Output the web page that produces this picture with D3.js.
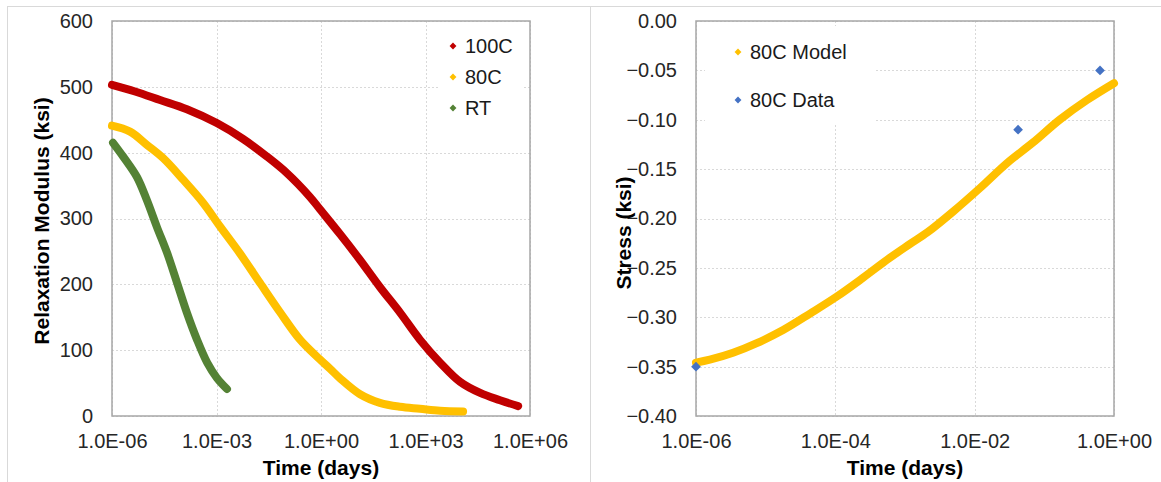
<!DOCTYPE html>
<html>
<head>
<meta charset="utf-8">
<script src="https://cdn.jsdelivr.net/npm/d3@7"></script>
<style>
  html, body { margin: 0; padding: 0; background: #fff; }
  svg { display: block; font-family: "Liberation Sans", Arial, sans-serif; }
</style>
</head>
<body>
<svg id="chart" width="1161" height="482"></svg>
<script>
// ---- Relaxation modulus (ksi) vs time (days) ----
const modSeriesNames = ["100C", "80C", "RT"];
const modSeriesColors = ["#C00000", "#FFC000", "#548235"];

const mod100C_t = [1e-6, 4.57e-6, 2.4e-5, 1.41e-4, 1.02e-3, 5.75e-3, 0.0282, 0.105, 0.479, 0.933, 3.55, 13.2, 49, 186, 692, 2630, 9770, 37150, 138000, 457000];
const mod100C_v = [503, 493, 480, 466, 445, 421, 394, 369, 333, 314, 276, 237, 196, 157, 116, 81, 52, 35, 24, 15];

const mod80C_t = [1e-6, 3.3e-6, 1e-5, 2.9e-5, 1.1e-4, 4.1e-4, 1.26e-3, 4.7e-3, 0.0178, 0.066, 0.25, 0.93, 1.8, 3.55, 13.2, 49, 186, 692, 2630, 12000];
const mod80C_v = [441, 432, 412, 392, 359, 324, 288, 247, 202, 158, 116, 86, 72, 57, 33, 20, 14, 11, 8, 7];

const modRT_t = [1.07e-6, 2.1e-6, 5.2e-6, 1e-5, 1.95e-5, 3.8e-5, 7.4e-5, 1.41e-4, 2.75e-4, 5.4e-4, 1.02e-3, 2.0e-3];
const modRT_v = [415, 394, 363, 328, 287, 248, 202, 157, 116, 81, 58, 41];

const modXTicks = [1e-6, 1e-3, 1e0, 1e3, 1e6];
const modYTicks = [0, 100, 200, 300, 400, 500, 600];

// ---- Stress (ksi) vs time (days) at 80C ----
const stressSeriesNames = ["80C Model", "80C Data"];
const stressSeriesColors = ["#FFC000", "#4472C4"];

const model_t = [1e-6, 1.58e-6, 3.4e-6, 7.6e-6, 1.78e-5, 4.4e-5, 1.05e-4, 2.5e-4, 6.0e-4, 1.17e-3, 2.1e-3, 4.9e-3, 0.012, 0.029, 0.069, 0.166, 0.41, 1.0];
const model_v = [-0.346, -0.343, -0.336, -0.326, -0.313, -0.296, -0.279, -0.260, -0.240, -0.226, -0.214, -0.193, -0.169, -0.144, -0.123, -0.100, -0.080, -0.063];

const data_t = [1e-6, 0.042, 0.63];
const data_v = [-0.350, -0.110, -0.050];

const stressXTicks = [1e-6, 1e-4, 1e-2, 1e0];
const stressYTicks = [-0.40, -0.35, -0.30, -0.25, -0.20, -0.15, -0.10, -0.05, 0.00];

const svg = d3.select("#chart");

// panel frames
svg.append("rect").attr("x", 7.5).attr("y", 6.5).attr("width", 583).attr("height", 500)
  .attr("fill", "none").attr("stroke", "#d9d9d9").attr("stroke-width", 1);
svg.append("rect").attr("x", 590.5).attr("y", 6.5).attr("width", 600).attr("height", 500)
  .attr("fill", "none").attr("stroke", "#d9d9d9").attr("stroke-width", 1);

const expFmt = d => {
  const e = Math.round(Math.log10(d));
  return "1.0E" + (e < 0 ? "-" : "+") + String(Math.abs(e)).padStart(2, "0");
};

function drawPanel(cfg) {
  const g = svg.append("g");
  const x = d3.scaleLog().domain(cfg.xDomain).range([cfg.left, cfg.right]);
  const y = d3.scaleLinear().domain(cfg.yDomain).range([cfg.bottom, cfg.top]);

  // gridlines
  g.append("g").selectAll("line.h").data(cfg.yTicks).join("line")
    .attr("x1", cfg.left).attr("x2", cfg.right)
    .attr("y1", d => Math.round(y(d)) + 0.5).attr("y2", d => Math.round(y(d)) + 0.5)
    .attr("stroke", "#d9d9d9").attr("stroke-width", 1).attr("stroke-dasharray", "2,2");
  g.append("g").selectAll("line.v").data(cfg.xTicks).join("line")
    .attr("y1", cfg.top).attr("y2", cfg.bottom)
    .attr("x1", d => Math.round(x(d)) + 0.5).attr("x2", d => Math.round(x(d)) + 0.5)
    .attr("stroke", "#d9d9d9").attr("stroke-width", 1).attr("stroke-dasharray", "2,2");

  // legend background hides the grid behind it
  g.append("rect").attr("x", cfg.legendBox[0]).attr("y", cfg.legendBox[1])
    .attr("width", cfg.legendBox[2]).attr("height", cfg.legendBox[3]).attr("fill", "#fff");

  // plot-area border
  g.append("rect").attr("x", cfg.left).attr("y", cfg.top)
    .attr("width", cfg.right - cfg.left).attr("height", cfg.bottom - cfg.top)
    .attr("fill", "none").attr("stroke", "#a6a6a6").attr("stroke-width", 1.5);

  // axes
  const xAxis = d3.axisBottom(x).tickValues(cfg.xTicks).tickFormat(expFmt).tickSize(0).tickPadding(18);
  const yAxis = d3.axisLeft(y).tickValues(cfg.yTicks).tickFormat(cfg.yFmt).tickSize(0).tickPadding(19);
  const gx = g.append("g").attr("transform", `translate(0,${cfg.bottom})`).call(xAxis);
  const gy = g.append("g").attr("transform", `translate(${cfg.left},0)`).call(yAxis);
  [gx, gy].forEach(a => {
    a.select(".domain").remove();
    a.selectAll("text").attr("font-size", 20).attr("fill", "#262626")
      .attr("font-family", "'Liberation Sans', Arial, sans-serif");
  });

  // series
  const line = d3.line().x(d => x(d[0])).y(d => y(d[1])).curve(d3.curveCatmullRom.alpha(0.5));
  cfg.lines.forEach(s => {
    const pts = s.t.map((t, i) => [t, s.v[i]]);
    g.append("path").attr("d", line(pts)).attr("fill", "none")
      .attr("stroke", s.color).attr("stroke-width", 8)
      .attr("stroke-linejoin", "round").attr("stroke-linecap", "round");
  });
  cfg.points.forEach(s => {
    const pts = s.t.map((t, i) => [t, s.v[i]]);
    g.append("g").selectAll("path").data(pts).join("path")
      .attr("d", d3.symbol(d3.symbolDiamond2, 60)())
      .attr("transform", d => `translate(${x(d[0])},${y(d[1])})`)
      .attr("fill", s.color);
  });

  // legend
  const lg = g.append("g");
  cfg.legend.forEach((item, i) => {
    const yy = cfg.legendY0 + i * cfg.legendStep;
    lg.append("path").attr("d", d3.symbol(d3.symbolDiamond2, 30)())
      .attr("transform", `translate(${cfg.legendX},${yy})`).attr("fill", item.color);
    lg.append("text").attr("x", cfg.legendX + 12).attr("y", yy)
      .attr("dominant-baseline", "central").attr("font-size", 20).attr("fill", "#1a1a1a")
      .text(item.name);
  });

  // axis titles
  g.append("text").attr("x", (cfg.left + cfg.right) / 2).attr("y", 467)
    .attr("text-anchor", "middle").attr("dominant-baseline", "central")
    .attr("font-size", 21).attr("font-weight", "bold").attr("fill", "#000")
    .text(cfg.xTitle);
  g.append("text").attr("transform", `translate(${cfg.yTitleX},${cfg.yTitleY}) rotate(-90)`)
    .attr("text-anchor", "middle").attr("dominant-baseline", "central")
    .attr("font-size", 21).attr("font-weight", "bold").attr("fill", "#000")
    .text(cfg.yTitle);
}

drawPanel({
  left: 112, right: 530, top: 21, bottom: 416,
  xDomain: [1e-6, 1e6], yDomain: [0, 600],
  xTicks: modXTicks, yTicks: modYTicks, yFmt: d3.format("d"),
  lines: [
    { t: mod100C_t, v: mod100C_v, color: modSeriesColors[0] },
    { t: mod80C_t, v: mod80C_v, color: modSeriesColors[1] },
    { t: modRT_t, v: modRT_v, color: modSeriesColors[2] }
  ],
  points: [],
  legend: modSeriesNames.map((n, i) => ({ name: n, color: modSeriesColors[i] })),
  legendBox: [440, 26, 82, 98], legendX: 453, legendY0: 46, legendStep: 31,
  xTitle: "Time (days)", yTitle: "Relaxation Modulus (ksi)", yTitleX: 41, yTitleY: 221
});

drawPanel({
  left: 696, right: 1114, top: 21, bottom: 416,
  xDomain: [1e-6, 1], yDomain: [-0.4, 0],
  xTicks: stressXTicks, yTicks: stressYTicks, yFmt: d3.format(".2f"),
  lines: [{ t: model_t, v: model_v, color: stressSeriesColors[0] }],
  points: [{ t: data_t, v: data_v, color: stressSeriesColors[1] }],
  legend: stressSeriesNames.map((n, i) => ({ name: n, color: stressSeriesColors[i] })),
  legendBox: [705, 26, 170, 98], legendX: 738, legendY0: 52, legendStep: 48,
  xTitle: "Time (days)", yTitle: "Stress (ksi)", yTitleX: 623, yTitleY: 233
});
</script>
</body>
</html>
